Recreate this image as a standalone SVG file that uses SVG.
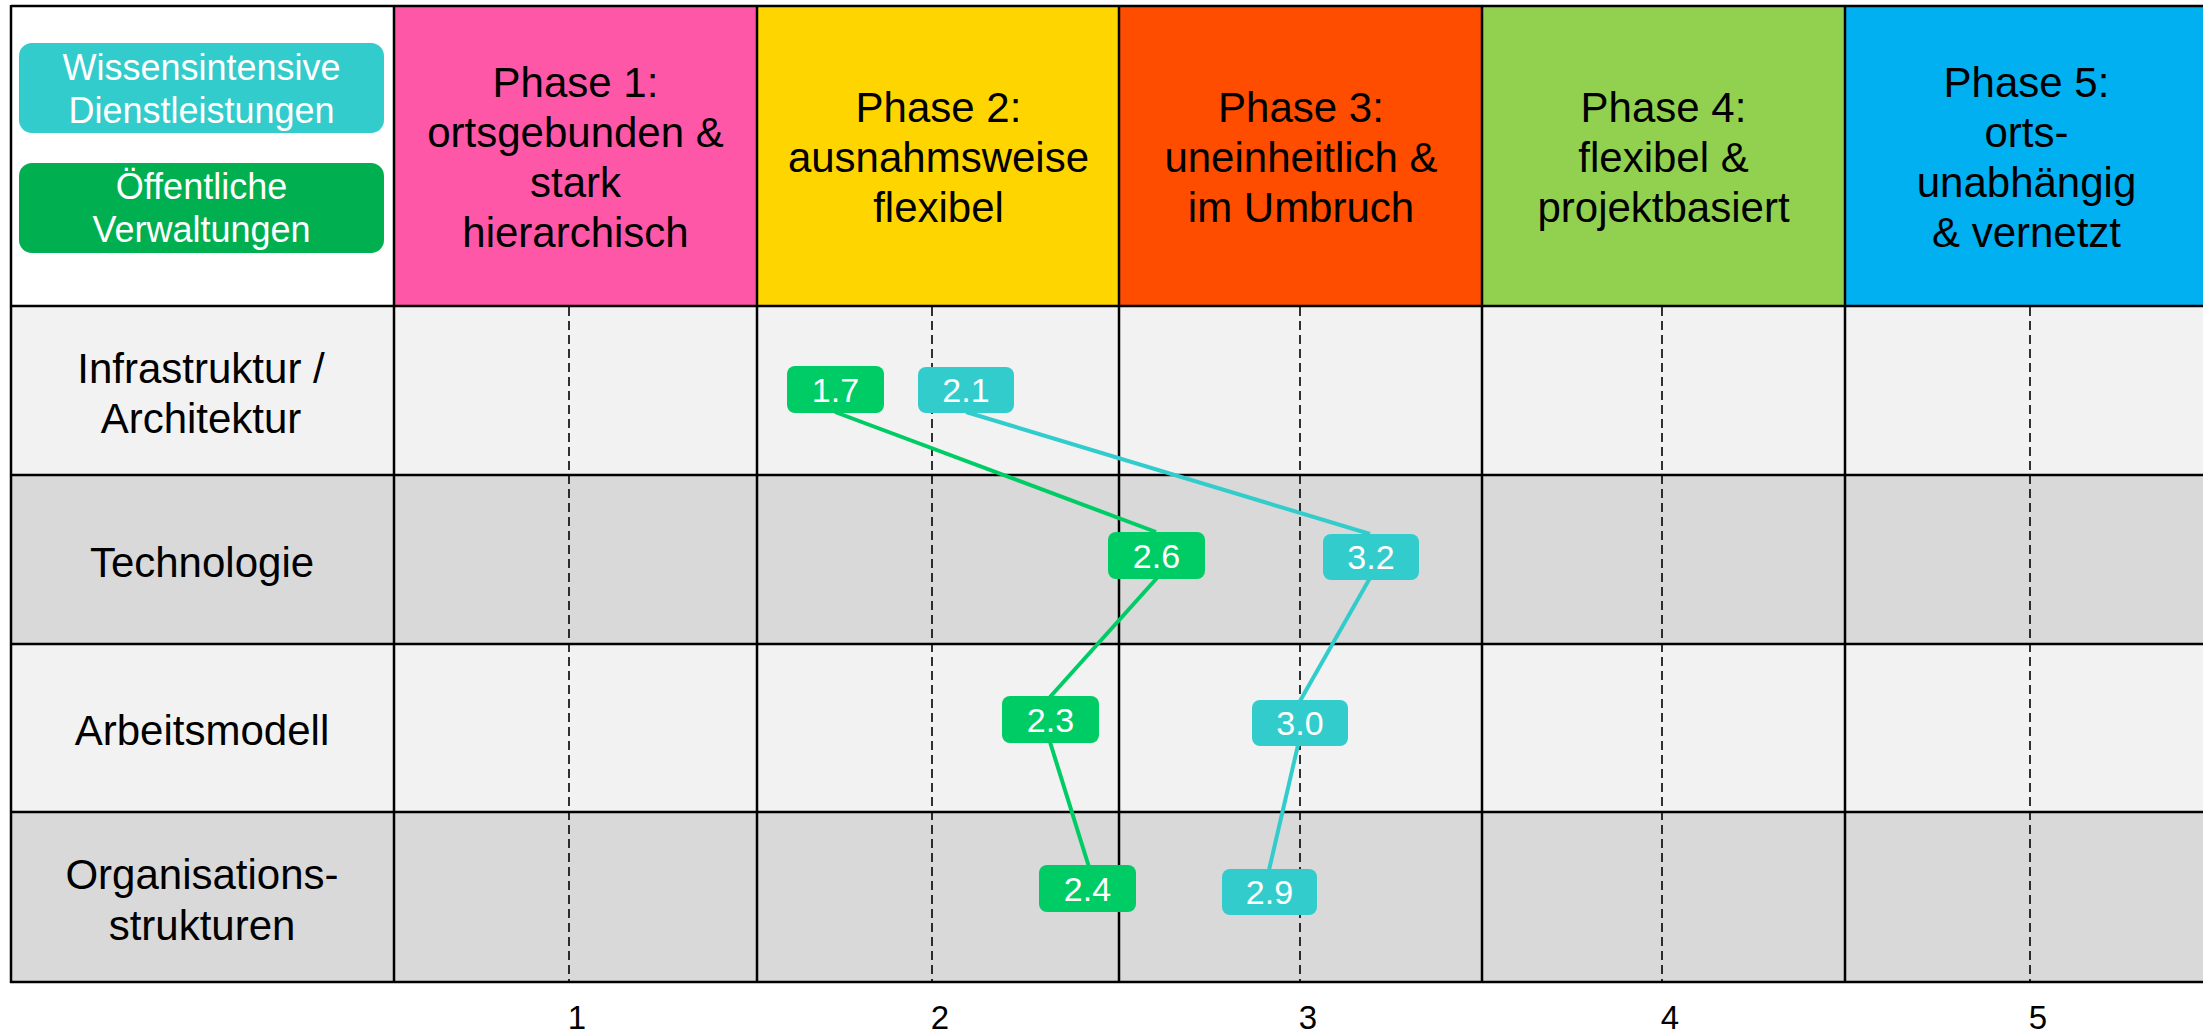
<svg xmlns="http://www.w3.org/2000/svg" width="2203" height="1035" viewBox="0 0 2203 1035">
<style>
.t{font-family:"Liberation Sans",Arial,sans-serif;fill:#000;text-anchor:middle}
.h{font-size:42px}
.r{font-size:42px}
.ax{font-size:33px}
.lg{font-family:"Liberation Sans",Arial,sans-serif;fill:#fff;text-anchor:middle;font-size:36px}
.nt{font-family:"Liberation Sans",Arial,sans-serif;fill:#fff;text-anchor:middle;font-size:34px}
.grid{stroke:#000;stroke-width:2.5;fill:none}
.dash{stroke:#000;stroke-width:1.6;stroke-dasharray:9 5;fill:none}
.g{fill:#00CC66}
.c{fill:#33CCCC}
.lgc{stroke:#00CC66;stroke-width:4;fill:none}
.lcc{stroke:#33CCCC;stroke-width:4;fill:none}
</style>
<rect width="2203" height="1035" fill="#fff"/>
<g id="header">
<rect x="11" y="6" width="383" height="300" fill="#fff"/>
<rect x="394" y="6" width="363" height="300" fill="#FF57A8"/>
<rect x="757" y="6" width="363" height="300" fill="#FFD500"/>
<rect x="1120" y="6" width="362" height="300" fill="#FF4D00"/>
<rect x="1482" y="6" width="363" height="300" fill="#92D050"/>
<rect x="1845" y="6" width="358" height="300" fill="#00B0F0"/>
</g>
<g id="rows">
<rect x="11" y="306" width="2192" height="169" fill="#F2F2F2"/>
<rect x="11" y="475" width="2192" height="169" fill="#D9D9D9"/>
<rect x="11" y="644" width="2192" height="168" fill="#F2F2F2"/>
<rect x="11" y="812" width="2192" height="170" fill="#D9D9D9"/>
</g>
<g id="dashes">
<line class="dash" x1="569" y1="307" x2="569" y2="981"/>
<line class="dash" x1="932" y1="307" x2="932" y2="981"/>
<line class="dash" x1="1300" y1="307" x2="1300" y2="981"/>
<line class="dash" x1="1662" y1="307" x2="1662" y2="981"/>
<line class="dash" x1="2030" y1="307" x2="2030" y2="981"/>
</g>
<g id="gridlines">
<line class="grid" x1="11" y1="6" x2="2203" y2="6" stroke-width="3"/>
<line class="grid" x1="11" y1="306" x2="2203" y2="306" stroke-width="3"/>
<line class="grid" x1="11" y1="475" x2="2203" y2="475"/>
<line class="grid" x1="11" y1="644" x2="2203" y2="644"/>
<line class="grid" x1="11" y1="812" x2="2203" y2="812"/>
<line class="grid" x1="10" y1="982" x2="2203" y2="982" stroke-width="3.5"/>
<line class="grid" x1="11" y1="5" x2="11" y2="983"/>
<line class="grid" x1="394" y1="5" x2="394" y2="983"/>
<line class="grid" x1="757" y1="5" x2="757" y2="983"/>
<line class="grid" x1="1119" y1="5" x2="1119" y2="983"/>
<line class="grid" x1="1482" y1="5" x2="1482" y2="983"/>
<line class="grid" x1="1845" y1="5" x2="1845" y2="983"/>
</g>
<g id="legend-wissen">
<rect x="19" y="43" width="365" height="90" rx="13" class="c"/>
<text class="lg" x="201.5" y="80">Wissensintensive</text>
<text class="lg" x="201.5" y="123">Dienstleistungen</text>
</g>
<g id="legend-oeffentlich">
<rect x="19" y="163" width="365" height="90" rx="13" fill="#00B050"/>
<text class="lg" x="201.5" y="199">Öffentliche</text>
<text class="lg" x="201.5" y="242">Verwaltungen</text>
</g>
<g id="phase1">
<text class="t h" x="575.5" y="97">Phase 1:</text>
<text class="t h" x="575.5" y="147">ortsgebunden &amp;</text>
<text class="t h" x="575.5" y="197">stark</text>
<text class="t h" x="575.5" y="247">hierarchisch</text>
</g>
<g id="phase2">
<text class="t h" x="938.5" y="122">Phase 2:</text>
<text class="t h" x="938.5" y="172">ausnahmsweise</text>
<text class="t h" x="938.5" y="222">flexibel</text>
</g>
<g id="phase3">
<text class="t h" x="1301" y="122">Phase 3:</text>
<text class="t h" x="1301" y="172">uneinheitlich &amp;</text>
<text class="t h" x="1301" y="222">im Umbruch</text>
</g>
<g id="phase4">
<text class="t h" x="1663.5" y="122">Phase 4:</text>
<text class="t h" x="1663.5" y="172">flexibel &amp;</text>
<text class="t h" x="1663.5" y="222">projektbasiert</text>
</g>
<g id="phase5">
<text class="t h" x="2026.5" y="97">Phase 5:</text>
<text class="t h" x="2026.5" y="147">orts-</text>
<text class="t h" x="2026.5" y="197">unabhängig</text>
<text class="t h" x="2026.5" y="247">&amp; vernetzt</text>
</g>
<g id="row-labels">
<text class="t r" x="201" y="383">Infrastruktur /</text>
<text class="t r" x="201" y="433">Architektur</text>
<text class="t r" x="202" y="577">Technologie</text>
<text class="t r" x="202" y="745">Arbeitsmodell</text>
<text class="t r" x="202" y="889">Organisations-</text>
<text class="t r" x="202" y="940">strukturen</text>
</g>
<g id="axis">
<text class="t ax" x="577" y="1029">1</text>
<text class="t ax" x="940" y="1029">2</text>
<text class="t ax" x="1308" y="1029">3</text>
<text class="t ax" x="1670" y="1029">4</text>
<text class="t ax" x="2038" y="1029">5</text>
</g>
<g id="connectors">
<line class="lgc" x1="835" y1="412" x2="1156" y2="532"/>
<line class="lgc" x1="1157" y1="578" x2="1050" y2="697"/>
<line class="lgc" x1="1050" y1="742" x2="1089" y2="867"/>
<line class="lcc" x1="966" y1="412" x2="1370" y2="534"/>
<line class="lcc" x1="1370" y1="578" x2="1300" y2="701"/>
<line class="lcc" x1="1298" y1="745" x2="1269" y2="870"/>
</g>
<g id="n17"><rect x="787" y="366" width="97" height="47" rx="8" class="g"/><text class="nt" x="835.5" y="402">1.7</text></g>
<g id="n21"><rect x="918" y="367" width="96" height="46" rx="8" class="c"/><text class="nt" x="966" y="402">2.1</text></g>
<g id="n26"><rect x="1108" y="532" width="97" height="47" rx="8" class="g"/><text class="nt" x="1156.5" y="568">2.6</text></g>
<g id="n32"><rect x="1323" y="534" width="96" height="46" rx="8" class="c"/><text class="nt" x="1371" y="569">3.2</text></g>
<g id="n23"><rect x="1002" y="696" width="97" height="47" rx="8" class="g"/><text class="nt" x="1050.5" y="732">2.3</text></g>
<g id="n30"><rect x="1252" y="700" width="96" height="46" rx="8" class="c"/><text class="nt" x="1300" y="735">3.0</text></g>
<g id="n24"><rect x="1039" y="865" width="97" height="47" rx="8" class="g"/><text class="nt" x="1087.5" y="901">2.4</text></g>
<g id="n29"><rect x="1222" y="869" width="95" height="46" rx="8" class="c"/><text class="nt" x="1269.5" y="904">2.9</text></g>
</svg>
